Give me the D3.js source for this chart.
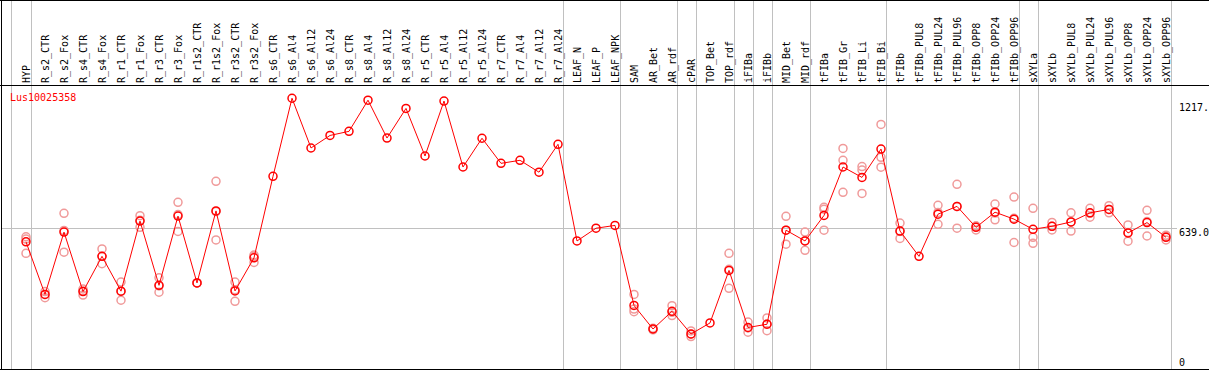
<!DOCTYPE html>
<html lang="en">
<head>
  <meta charset="UTF-8" />
  <title>Lus10025358</title>
  <script src="https://cdn.jsdelivr.net/npm/d3@7"></script>
  <style>
    body { margin: 0; background: #fff; }
    text { font-family: "DejaVu Sans Mono", monospace; font-size: 10px; }
    .frame { stroke: #000; stroke-width: 1px; shape-rendering: crispEdges; }
    .grid { stroke: #c0c0c0; stroke-width: 1px; shape-rendering: crispEdges; }
    .mean-line { fill: none; stroke: #ff0000; stroke-width: 1px; }
    .mean-pt { fill: none; stroke: #ff0000; stroke-width: 1.5px; }
    .rep-pt { fill: none; stroke: #f09a9a; stroke-width: 1.5px; }
  </style>
</head>
<body>
<script>
  var w = 1209;
  var h = 370;

  var geneName = "Lus10025358";

  var samples = ["HYP", "R_s2_CTR", "R_s2_Fox", "R_s4_CTR", "R_s4_Fox", "R_r1_CTR", "R_r1_Fox",
    "R_r3_CTR", "R_r3_Fox", "R_r1s2_CTR", "R_r1s2_Fox", "R_r3s2_CTR", "R_r3s2_Fox",
    "R_s6_CTR", "R_s6_Al4", "R_s6_Al12", "R_s6_Al24", "R_s8_CTR", "R_s8_Al4", "R_s8_Al12", "R_s8_Al24",
    "R_r5_CTR", "R_r5_Al4", "R_r5_Al12", "R_r5_Al24", "R_r7_CTR", "R_r7_Al4", "R_r7_Al12", "R_r7_Al24",
    "LEAF_N", "LEAF_P", "LEAF_NPK", "SAM", "AR_Bet", "AR_rdf", "cPAR", "TOP_Bet", "TOP_rdf",
    "iFIBa", "iFIBb", "MID_Bet", "MID_rdf", "tFIBa", "tFIB_Gr", "tFIB_Li", "tFIB_Bi", "tFIBb",
    "tFIBb_PUL8", "tFIBb_PUL24", "tFIBb_PUL96", "tFIBb_OPP8", "tFIBb_OPP24", "tFIBb_OPP96",
    "sXYLa", "sXYLb", "sXYLb_PUL8", "sXYLb_PUL24", "sXYLb_PUL96", "sXYLb_OPP8", "sXYLb_OPP24", "sXYLb_OPP96"];

  var means = [575, 332, 620, 345, 508, 347, 671, 374, 694, 385, 718, 348, 501,
    878, 1239, 1009, 1067, 1086, 1230, 1055, 1192,
    972, 1226, 921, 1054, 938, 952, 897, 1026,
    579, 638, 651, 281, 172, 254, 149, 200, 443,
    179, 194, 629, 579, 697, 921, 873, 1004, 625,
    508, 703, 739, 642, 712, 680,
    633, 647, 667, 709, 725, 616, 664, 596];

  // replicate values per sample (empty = only the mean was drawn)
  var replicates = [
    [598, 588, 522], [345, 317, 332], [707, 527, 628], [357, 329, 348], [542, 474, 508],
    [389, 305, 346], [696, 642, 675], [409, 342, 371], [758, 623, 701], [385, 385, 385],
    [855, 584, 715], [389, 300, 354], [514, 480, 508],
    [], [], [], [], [], [], [], [],
    [], [], [], [], [], [], [], [],
    [], [], [], [332, 264, 252], [168, 172, 176], [280, 234, 249], [163, 137, 148], [], [522, 360, 448],
    [204, 157, 177], [223, 164, 195], [693, 564, 629], [620, 536, 580], [735, 629, 726],
    [1007, 952, 804], [923, 907, 799], [1118, 966, 920], [662, 591, 623],
    [], [744, 656, 711], [841, 638, 738], [648, 630, 648], [750, 677, 708], [782, 572, 684],
    [730, 596, 568], [665, 630, 647], [709, 625, 667], [730, 689, 707], [742, 709, 725],
    [653, 578, 618], [721, 602, 669], [606, 584, 600]];

  // gray separators come after these samples
  var groupEnds = ["HYP", "R_r7_Al24", "LEAF_NPK", "AR_rdf", "cPAR", "TOP_rdf", "iFIBa", "iFIBb",
    "MID_rdf", "tFIB_Bi", "tFIBb_OPP96", "sXYLa", "sXYLb_OPP96"];

  var yTicks = [0, 639, 1217];
  var yTickLabels = ["0", "639.0", "1217."];

  var headerY = 85;
  var bottomY = 369;

  var svg = d3.select("body").append("svg")
    .attr("width", w)
    .attr("height", h);

  var xScale = d3.scalePoint()
    .domain(samples)
    .range([26, 1166]);

  var yScale = d3.scaleLinear()
    .domain([0, 1217])
    .range([366.2, 103]);

  // vertical group separators
  var sepX = [xScale(samples[0]) - 15].concat(groupEnds.map(function(s) { return xScale(s) + 5; }));
  svg.selectAll(".vsep")
    .data(sepX)
    .enter()
    .append("line")
    .attr("class", "grid")
    .attr("x1", function(d) { return Math.round(d) + 0.5; })
    .attr("x2", function(d) { return Math.round(d) + 0.5; })
    .attr("y1", 0)
    .attr("y2", bottomY);

  // horizontal line at the middle tick
  svg.append("line")
    .attr("class", "grid")
    .attr("x1", 1)
    .attr("x2", 1177)
    .attr("y1", Math.round(yScale(yTicks[1])) + 0.5)
    .attr("y2", Math.round(yScale(yTicks[1])) + 0.5);

  // frame
  svg.append("line").attr("class", "frame").attr("x1", 0).attr("x2", w).attr("y1", 0.5).attr("y2", 0.5);
  svg.append("line").attr("class", "frame").attr("x1", 0).attr("x2", w).attr("y1", headerY + 0.5).attr("y2", headerY + 0.5);
  svg.append("line").attr("class", "frame").attr("x1", 0).attr("x2", w).attr("y1", bottomY + 0.5).attr("y2", bottomY + 0.5);
  svg.append("line").attr("class", "frame").attr("x1", 1.5).attr("x2", 1.5).attr("y1", 0).attr("y2", bottomY);

  // column labels
  svg.selectAll(".col-label")
    .data(samples)
    .enter()
    .append("text")
    .attr("class", "col-label")
    .attr("transform", function(d) {
      return "translate(" + (xScale(d) + 4) + "," + 83 + ") rotate(-90)";
    })
    .attr("fill", "#000")
    .text(function(d) { return d; });

  // gene name
  svg.append("text")
    .attr("x", 10)
    .attr("y", 101)
    .attr("fill", "#ff0000")
    .text(geneName);

  // right-hand value labels
  svg.selectAll(".ytick")
    .data(yTicks)
    .enter()
    .append("text")
    .attr("class", "ytick")
    .attr("x", 1179)
    .attr("y", function(d) { return Math.min(yScale(d) + 8, 366); })
    .attr("fill", "#000")
    .text(function(d, i) { return yTickLabels[i]; });

  // replicate points
  var reps = [];
  samples.forEach(function(s, i) {
    replicates[i].forEach(function(v) { reps.push({ s: s, v: v }); });
  });

  svg.selectAll(".rep-pt")
    .data(reps)
    .enter()
    .append("circle")
    .attr("class", "rep-pt")
    .attr("cx", function(d) { return xScale(d.s); })
    .attr("cy", function(d) { return yScale(d.v); })
    .attr("r", 4);

  var meanData = samples.map(function(s, i) { return { s: s, v: means[i] }; });

  var line = d3.line()
    .x(function(d) { return xScale(d.s); })
    .y(function(d) { return yScale(d.v); });

  svg.append("path")
    .datum(meanData)
    .attr("class", "mean-line")
    .attr("d", line);

  svg.selectAll(".mean-pt")
    .data(meanData)
    .enter()
    .append("circle")
    .attr("class", "mean-pt")
    .attr("cx", function(d) { return xScale(d.s); })
    .attr("cy", function(d) { return yScale(d.v); })
    .attr("r", 4);
</script>
</body>
</html>
